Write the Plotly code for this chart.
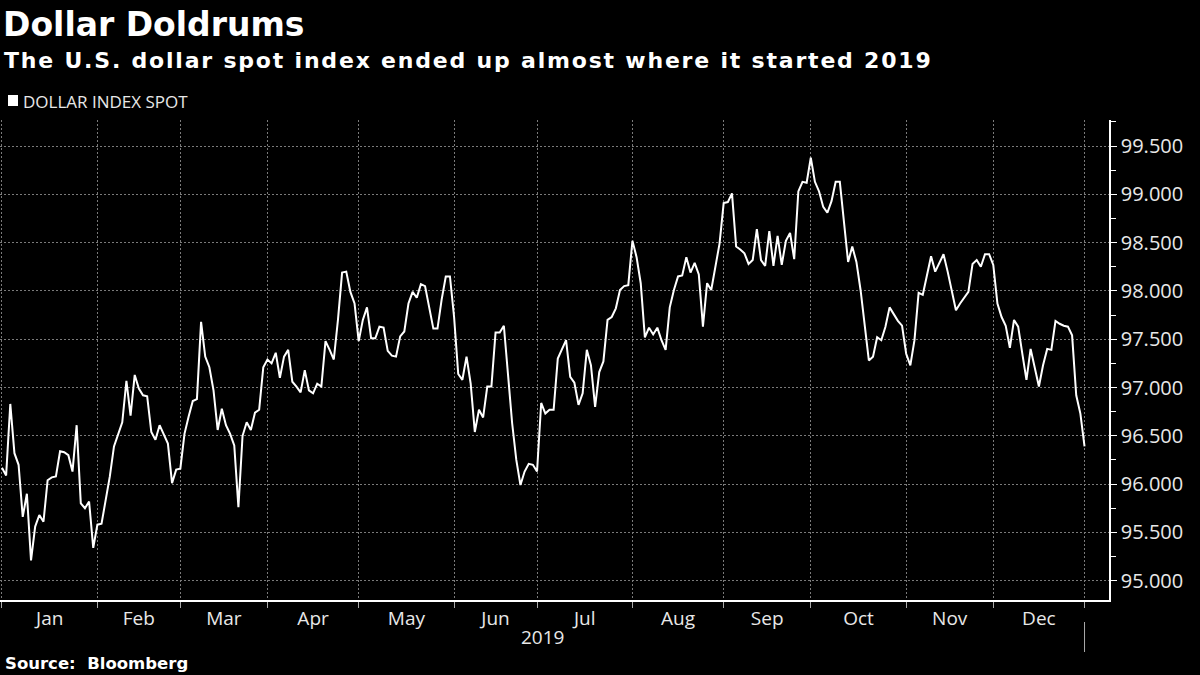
import numpy as np
import pandas as pd
import plotly.graph_objects as go

# ---- data (DXY daily closes) ----
dec2018 = [96.17]
jan = [96.09, 96.83, 96.32, 96.20, 95.66, 95.90, 95.21, 95.56, 95.68, 95.61, 96.04, 96.07,
       96.08, 96.34, 96.33, 96.30, 96.13, 96.61, 95.80, 95.75, 95.82, 95.34, 95.58]
feb = [95.59, 95.83, 96.08, 96.39, 96.51, 96.64, 97.07, 96.71, 97.13, 96.99, 96.92, 96.91,
       96.54, 96.46, 96.61, 96.52, 96.42, 96.01, 96.15, 96.16]
mar = [96.52, 96.70, 96.86, 96.88, 97.68, 97.32, 97.21, 96.97, 96.56, 96.78, 96.61, 96.52,
       96.40, 95.76, 96.50, 96.64, 96.56, 96.74, 96.77, 97.21, 97.29]
apr = [97.25, 97.36, 97.10, 97.32, 97.39, 97.06, 97.01, 96.95, 97.18, 96.97, 96.94, 97.04,
       97.01, 97.48, 97.39, 97.29, 97.70, 98.19, 98.20, 97.99, 97.87, 97.48]
may = [97.70, 97.83, 97.51, 97.51, 97.63, 97.62, 97.38, 97.33, 97.32, 97.53, 97.58, 97.87,
       97.99, 97.93, 98.07, 98.05, 97.83, 97.61, 97.61, 97.91, 98.15, 98.15, 97.73]
jun = [97.14, 97.08, 97.32, 97.04, 96.54, 96.77, 96.69, 97.01, 97.01, 97.57, 97.57, 97.64,
       97.14, 96.63, 96.25, 95.99, 96.13, 96.21, 96.20, 96.13]
jul = [96.84, 96.73, 96.77, 96.77, 97.30, 97.39, 97.49, 97.11, 97.05, 96.82, 96.94, 97.39,
       97.23, 96.80, 97.16, 97.27, 97.70, 97.73, 97.82, 98.01, 98.05, 98.06, 98.52]
aug = [98.35, 98.08, 97.52, 97.62, 97.55, 97.62, 97.49, 97.39, 97.83, 98.01, 98.15, 98.16,
       98.35, 98.19, 98.29, 98.17, 97.63, 98.08, 98.01, 98.25, 98.49, 98.91]
sep = [98.92, 99.01, 98.46, 98.43, 98.39, 98.28, 98.32, 98.64, 98.32, 98.26, 98.62, 98.26,
       98.57, 98.27, 98.52, 98.60, 98.33, 99.03, 99.13, 99.12, 99.38]
oct_ = [99.13, 99.03, 98.87, 98.81, 98.93, 99.13, 99.13, 98.70, 98.30, 98.46, 98.30, 98.01,
        97.63, 97.28, 97.32, 97.52, 97.49, 97.63, 97.83, 97.76, 97.69, 97.64, 97.35]
nov = [97.23, 97.49, 97.98, 97.96, 98.16, 98.36, 98.20, 98.29, 98.38, 98.20, 97.99, 97.80,
       97.87, 97.93, 97.99, 98.28, 98.32, 98.25, 98.38, 98.38, 98.27]
dec = [97.87, 97.73, 97.64, 97.41, 97.70, 97.63, 97.35, 97.08, 97.40, 97.20, 97.01, 97.23,
       97.40, 97.39, 97.69, 97.66, 97.64, 97.63, 97.54, 96.92, 96.73, 96.39]

month_labels = ["Jan", "Feb", "Mar", "Apr", "May", "Jun", "Jul", "Aug", "Sep", "Oct", "Nov", "Dec"]
y_ticks = [95.0, 95.5, 96.0, 96.5, 97.0, 97.5, 98.0, 98.5, 99.0, 99.5]

months = [jan, feb, mar, apr, may, jun, jul, aug, sep, oct_, nov, dec]
values = dec2018 + [v for m in months for v in m]
dates = pd.bdate_range("2018-12-31", "2019-12-31")
assert len(dates) == len(values)
x = np.arange(len(values))  # business-day index

# month boundaries (last business day of previous month)
counts = [len(dec2018)] + [len(m) for m in months]
bounds = list(np.cumsum(counts) - 1)          # 13 boundaries
mids = [(bounds[i] + bounds[i + 1]) / 2 for i in range(12)]

W, H = 1200, 675
L, R, T, B = 0, 91, 120, 75
PW, PH = W - L - R, H - T - B


def px(xp):
    return (xp - L) / PW


def py(yp):
    return (H - B - yp) / PH


fig = go.Figure()
fig.add_trace(go.Scatter(x=x, y=values, mode="lines",
                         line=dict(color="white", width=2), name="DOLLAR INDEX SPOT",
                         showlegend=False))

grid = "#7a7a7a"
FONT = "Open Sans"
BOLD = "DejaVu Sans"
fig.update_layout(
    width=W, height=H,
    margin=dict(l=L, r=R, t=T, b=B),
    paper_bgcolor="black", plot_bgcolor="black",
    font=dict(family=FONT, color="white"),
    xaxis=dict(
        range=[-0.48, 266.9],
        tickmode="array", tickvals=mids, ticktext=month_labels,
        ticks="", showgrid=False, zeroline=False,
        showline=True, linecolor="white", linewidth=1.5,
        tickfont=dict(size=19, color="#e8e8e8", family=FONT),
        minor=dict(tickmode="array", tickvals=bounds, showgrid=True, gridcolor=grid,
                   griddash="2px,2px", gridwidth=1, ticks="outside", ticklen=6,
                   tickcolor="#aaaaaa"),
    ),
    yaxis=dict(
        side="right", range=[94.80, 99.77],
        tickmode="array", tickvals=y_ticks, tickformat=".3f",
        showgrid=True, gridcolor=grid, griddash="2px,2px", gridwidth=1,
        zeroline=False, showline=True, linecolor="white", linewidth=1.5,
        ticks="outside", ticklen=6, tickcolor="white",
        tickfont=dict(size=20, color="#e8e8e8", family=FONT),
        minor=dict(dtick=0.25, tick0=95.0, ticks="outside", ticklen=5, tickcolor="white",
                   showgrid=False),
    ),
    showlegend=False,
)

ann = [
    dict(text="<b>Dollar Doldrums</b>", x=px(1), y=py(25),
         font=dict(size=33, color="white", family=BOLD)),
    dict(text="<span style=\"letter-spacing:1.8px\"><b>The U.S. dollar spot index ended up almost where it started 2019</b></span>",
         x=px(2), y=py(60), font=dict(size=22, color="white", family=BOLD)),
    dict(text="DOLLAR INDEX SPOT", x=px(21), y=py(101),
         font=dict(size=17, color="#e8e8e8", family=FONT)),
    dict(text="<b>Source:  Bloomberg</b>", x=px(3), y=py(663),
         font=dict(size=16.5, color="white", family=BOLD)),
]
for a in ann:
    fig.add_annotation(xref="paper", yref="paper", xanchor="left", yanchor="middle",
                       showarrow=False, **a)
fig.add_annotation(xref="paper", yref="paper", x=px(542), y=py(637), text="2019",
                   showarrow=False, xanchor="center", yanchor="middle",
                   font=dict(size=19, color="#e8e8e8", family=FONT))

# legend square
fig.add_shape(type="rect", xref="paper", yref="paper", x0=px(8), x1=px(18), y0=py(106), y1=py(95),
              fillcolor="white", line=dict(width=0))
# year separator below axis
fig.add_shape(type="line", xref="x", yref="paper", x0=bounds[-1], x1=bounds[-1],
              y0=py(622), y1=py(652), line=dict(color="#aaaaaa", width=1))

fig.write_html("out.html", config={"displayModeBar": False},
               post_script="document.body.style.margin='0';document.body.style.background='black';")
